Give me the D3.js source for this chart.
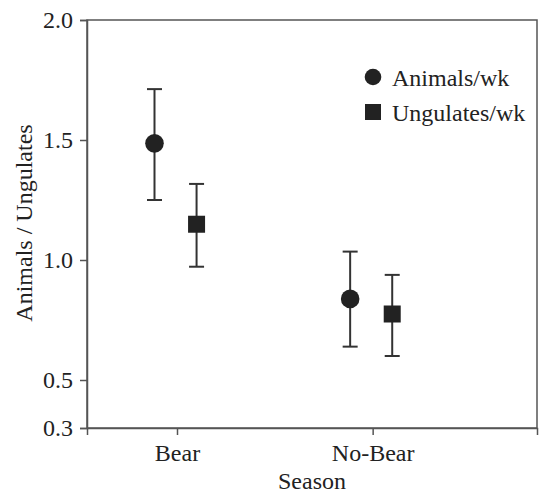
<!DOCTYPE html>
<html><head><meta charset="utf-8">
<script src="https://cdn.jsdelivr.net/npm/d3@7"></script>
<style>body{margin:0;background:#fff}svg{display:block}</style>
</head><body><svg id="c" width="541" height="496" font-family="Liberation Serif"></svg>
<script>
const categories = ["Bear", "No-Bear"];
const seriesNames = ["Animals/wk", "Ungulates/wk"];
const animalsMean = [1.486, 0.838];
const animalsLow = [1.25, 0.639];
const animalsHigh = [1.712, 1.035];
const ungulatesMean = [1.149, 0.775];
const ungulatesLow = [0.972, 0.60];
const ungulatesHigh = [1.317, 0.938];
const yTicks = [0.3, 0.5, 1.0, 1.5, 2.0];

const FONT = "Liberation Serif";
const svg = d3.select("#c");
const m = {l: 87, r: 4, t: 20, b: 68};
const W = 541, H = 496;
const x = d3.scaleLinear().domain([0.54, 2.84]).range([m.l, W - m.r]);
const y = d3.scaleLinear().domain([0.3, 2.0]).range([H - m.b, m.t]);
const dodge = [-0.115, 0.1];
const fs = 24;
const ink = "#222", axisCol = "#555";

// frame
svg.append("rect").attr("x", m.l).attr("y", m.t).attr("width", W - m.r - m.l).attr("height", H - m.b - m.t)
  .attr("fill", "none").attr("stroke", axisCol).attr("stroke-width", 1.5);

const yAxis = svg.append("g").attr("transform", `translate(${m.l},0)`)
  .call(d3.axisLeft(y).tickValues(yTicks).tickFormat(d3.format(".1f")).tickSize(7).tickPadding(7));
const xAxis = svg.append("g").attr("transform", `translate(0,${H - m.b})`)
  .call(d3.axisBottom(x).tickValues([1, 2]).tickFormat((d, i) => categories[i]).tickSize(7).tickPadding(9));
[yAxis, xAxis].forEach(a => {
  a.attr("font-family", FONT).attr("font-size", fs);
  a.select(".domain").attr("stroke", axisCol).attr("stroke-width", 1.5);
  a.selectAll(".tick line").attr("stroke", axisCol).attr("stroke-width", 1.5);
  a.selectAll(".tick text").attr("font-size", fs).attr("fill", ink).attr("font-family", FONT);
});

svg.append("text").attr("x", (m.l + W - m.r) / 2).attr("y", 489).attr("text-anchor", "middle")
  .attr("font-family", FONT).attr("font-size", fs).attr("fill", ink).text("Season");
svg.append("text").attr("transform", `translate(32,${(m.t + H - m.b) / 2 - 1}) rotate(-90)`).attr("text-anchor", "middle")
  .attr("font-family", FONT).attr("font-size", fs).attr("fill", ink).text("Animals / Ungulates");

const series = [
  {name: seriesNames[0], mean: animalsMean, lo: animalsLow, hi: animalsHigh, shape: "circle"},
  {name: seriesNames[1], mean: ungulatesMean, lo: ungulatesLow, hi: ungulatesHigh, shape: "square"}
];
const capW = 7.5;
series.forEach((s, si) => {
  categories.forEach((c, ci) => {
    const cx = x(ci + 1 + dodge[si]);
    const g = svg.append("g");
    g.append("line").attr("x1", cx).attr("x2", cx).attr("y1", y(s.lo[ci])).attr("y2", y(s.hi[ci]))
      .attr("stroke", "#333").attr("stroke-width", 2);
    [s.lo[ci], s.hi[ci]].forEach(v => g.append("line").attr("x1", cx - capW).attr("x2", cx + capW)
      .attr("y1", y(v)).attr("y2", y(v)).attr("stroke", "#333").attr("stroke-width", 2));
    if (s.shape === "circle") g.append("circle").attr("cx", cx).attr("cy", y(s.mean[ci])).attr("r", 9.3).attr("fill", ink);
    else g.append("rect").attr("x", cx - 8.5).attr("y", y(s.mean[ci]) - 8.5).attr("width", 17).attr("height", 17).attr("fill", ink);
  });
});

// legend
const lg = svg.append("g");
series.forEach((s, i) => {
  const ly = 77 + i * 35;
  if (s.shape === "circle") lg.append("circle").attr("cx", 373).attr("cy", ly).attr("r", 8.3).attr("fill", ink);
  else lg.append("rect").attr("x", 365).attr("y", ly - 8).attr("width", 16).attr("height", 16).attr("fill", ink);
  lg.append("text").attr("x", 392).attr("y", ly + 9).attr("font-family", FONT).attr("font-size", fs).attr("fill", ink).text(s.name);
});
</script></body></html>
